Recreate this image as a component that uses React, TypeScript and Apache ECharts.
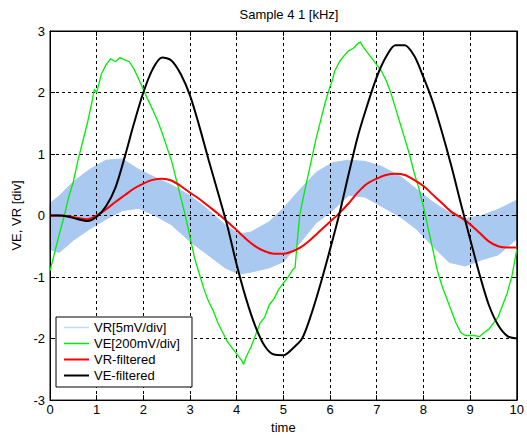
import React, { useEffect, useRef } from "react";
import * as echarts from "echarts";

// VR raw signal (noisy) drawn as its envelope band: x, lower, upper
const bandX = [0.0, 0.2, 0.5, 0.85, 1.2, 1.55, 1.9, 2.25, 2.6, 3.0, 3.35, 3.75, 4.05, 4.3, 4.7, 5.0, 5.35, 5.7, 6.05, 6.4, 6.75, 7.1, 7.5, 7.85, 8.2, 8.55, 8.9, 9.25, 9.6, 10.0];
const bandLow = [-0.55, -0.6, -0.4, -0.22, -0.06, 0.08, 0.12, 0.0, -0.15, -0.42, -0.62, -0.85, -0.95, -0.92, -0.85, -0.75, -0.45, -0.12, 0.08, 0.33, 0.3, 0.15, -0.02, -0.22, -0.5, -0.76, -0.82, -0.72, -0.64, -0.38];
const bandHigh = [0.2, 0.32, 0.55, 0.75, 0.9, 0.92, 0.75, 0.62, 0.5, 0.32, 0.12, -0.15, -0.3, -0.27, -0.1, 0.12, 0.42, 0.7, 0.86, 0.9, 0.88, 0.8, 0.64, 0.43, 0.22, 0.05, -0.05, 0.0, 0.1, 0.25];

// VE raw signal
const veX = [0, 0.1, 0.2, 0.3, 0.4, 0.5, 0.6, 0.7, 0.8, 0.9, 0.95, 1.0, 1.05, 1.1, 1.2, 1.3, 1.4, 1.5, 1.6, 1.7, 1.8, 1.9, 2.0, 2.1, 2.2, 2.3, 2.4, 2.5, 2.6, 2.7, 2.8, 2.9, 3.0, 3.1, 3.2, 3.3, 3.4, 3.5, 3.6, 3.7, 3.8, 3.9, 4.0, 4.1, 4.15, 4.2, 4.3, 4.4, 4.5, 4.6, 4.7, 4.8, 4.9, 5.0, 5.1, 5.2, 5.25, 5.3, 5.35, 5.4, 5.5, 5.6, 5.7, 5.8, 5.9, 6.0, 6.05, 6.1, 6.2, 6.3, 6.4, 6.5, 6.6, 6.65, 6.7, 6.8, 6.9, 7.0, 7.1, 7.2, 7.3, 7.4, 7.5, 7.6, 7.7, 7.8, 7.9, 8.0, 8.1, 8.2, 8.3, 8.4, 8.5, 8.6, 8.7, 8.8, 8.9, 9.0, 9.1, 9.2, 9.3, 9.4, 9.5, 9.6, 9.7, 9.8, 9.9, 10];
const veY = [-0.9, -0.6, -0.3, -0.02, 0.3, 0.55, 0.9, 1.2, 1.5, 1.85, 2.05, 2.0, 2.15, 2.3, 2.45, 2.55, 2.5, 2.57, 2.53, 2.5, 2.38, 2.22, 2.05, 1.88, 1.72, 1.55, 1.35, 1.12, 0.9, 0.6, 0.3, 0.0, -0.35, -0.7, -0.95, -1.2, -1.4, -1.55, -1.75, -1.9, -2.05, -2.15, -2.25, -2.35, -2.42, -2.3, -2.15, -1.95, -1.75, -1.65, -1.45, -1.35, -1.2, -1.1, -1.0, -0.88, -0.85, -0.4, 0.0, 0.2, 0.55, 0.9, 1.25, 1.55, 1.85, 2.1, 2.2, 2.35, 2.5, 2.6, 2.68, 2.72, 2.8, 2.82, 2.75, 2.65, 2.55, 2.45, 2.35, 2.2, 2.0, 1.75, 1.5, 1.25, 1.0, 0.7, 0.45, 0.15, -0.2, -0.55, -0.9, -1.15, -1.35, -1.55, -1.75, -1.9, -1.95, -1.95, -1.95, -1.97, -1.9, -1.85, -1.75, -1.65, -1.45, -1.25, -0.97, -0.55];

// filtered signals
const filtX = [0, 0.2, 0.4, 0.6, 0.8, 1.0, 1.2, 1.4, 1.6, 1.8, 2.0, 2.2, 2.4, 2.6, 2.8, 3.0, 3.2, 3.4, 3.6, 3.8, 4.0, 4.2, 4.4, 4.6, 4.8, 5.0, 5.2, 5.4, 5.6, 5.8, 6.0, 6.2, 6.4, 6.6, 6.8, 7.0, 7.2, 7.4, 7.6, 7.8, 8.0, 8.2, 8.4, 8.6, 8.8, 9.0, 9.2, 9.4, 9.6, 9.8, 10];
const vrFilt = [0, 0, -0.01, -0.04, -0.06, 0, 0.1, 0.22, 0.33, 0.44, 0.52, 0.58, 0.6, 0.57, 0.48, 0.37, 0.27, 0.15, 0.03, -0.1, -0.24, -0.38, -0.5, -0.58, -0.62, -0.62, -0.58, -0.5, -0.38, -0.24, -0.1, 0.04, 0.2, 0.38, 0.52, 0.6, 0.66, 0.68, 0.66, 0.58, 0.48, 0.34, 0.2, 0.06, -0.03, -0.14, -0.28, -0.42, -0.5, -0.52, -0.52];
const veFilt = [0, 0, -0.02, -0.06, -0.09, -0.02, 0.15, 0.45, 0.95, 1.5, 2.0, 2.38, 2.57, 2.52, 2.3, 1.95, 1.45, 0.9, 0.37, -0.17, -0.8, -1.35, -1.8, -2.12, -2.26, -2.27, -2.16, -2.0, -1.6, -1.1, -0.55, 0.03, 0.68, 1.3, 1.8, 2.25, 2.58, 2.77, 2.77, 2.6, 2.25, 1.85, 1.35, 0.8, 0.2, -0.38, -0.95, -1.45, -1.78, -1.96, -2.0];

const yTicks = [-3, -2, -1, 0, 1, 2, 3];
const BAND = "#a9c9f0";
const FONT = "Liberation Sans";
const LINE_ICON = "path://M0,0H25V2H0Z";
const THIN_ICON = "path://M0,0H25V1.5H0Z";

export default function App() {
  const ref = useRef<HTMLDivElement>(null);
  useEffect(() => {
    document.body.style.margin = "0";
    const chart = echarts.init(ref.current!, null, { renderer: "svg" });
    const zip = (xs: number[], ys: number[]) => xs.map((x, i) => [x, ys[i]]);
    const bandData = bandX.map((x, i) => [x, bandLow[i], bandHigh[i]]);
    const tick = { inside: true, length: 5, lineStyle: { color: "#000" } };
    const split = { show: true, lineStyle: { color: "#000", type: [3, 3], width: 1 } };
    const labelStyle = { fontFamily: FONT, fontSize: 13, color: "#000" };
    const line = { onZero: false, lineStyle: { color: "#000" } };
    chart.setOption({
      animation: false,
      backgroundColor: "#fff",
      textStyle: { fontFamily: FONT },
      title: {
        text: "Sample 4 1 [kHz]",
        left: 284,
        top: 3,
        textAlign: "center",
        textStyle: { fontFamily: FONT, fontSize: 13, fontWeight: "normal", color: "#000" },
      },
      grid: { left: 50, right: 9, top: 31, bottom: 37, show: true, borderColor: "#000", borderWidth: 1, backgroundColor: "transparent", z: 3 },
      legend: {
        left: 56,
        top: 317,
        orient: "vertical",
        selectedMode: false,
        itemWidth: 25,
        itemHeight: 14,
        itemGap: 3,
        padding: [4, 12, 5, 8],
        borderColor: "#000",
        borderWidth: 1,
        backgroundColor: "#fff",
        z: 10,
        textStyle: { fontFamily: FONT, fontSize: 13, color: "#000" },
        data: [
          { name: "VR[5mV/div]", icon: THIN_ICON, itemStyle: { color: "#c3daf4" } },
          { name: "VE[200mV/div]", icon: THIN_ICON, itemStyle: { color: "#00ee00" } },
          { name: "VR-filtered", icon: LINE_ICON, itemStyle: { color: "#ff0000" } },
          { name: "VE-filtered", icon: LINE_ICON, itemStyle: { color: "#000000" } },
        ],
      },
      xAxis: [
        {
          type: "value",
          min: 0,
          max: 10,
          interval: 1,
          z: 3,
          name: "time",
          nameLocation: "middle",
          nameGap: 20,
          nameTextStyle: labelStyle,
          axisLabel: { margin: 3, ...labelStyle },
          axisLine: line,
          axisTick: tick,
          splitLine: split,
        },
        {
          type: "value",
          position: "top",
          min: 0,
          max: 10,
          interval: 1,
          z: 3,
          axisLabel: { show: false },
          axisLine: line,
          axisTick: tick,
          splitLine: { show: false },
        },
      ],
      yAxis: [
        {
          type: "value",
          min: yTicks[0],
          max: yTicks[yTicks.length - 1],
          interval: 1,
          z: 3,
          name: "VE, VR [div]",
          nameLocation: "middle",
          nameGap: 25,
          nameTextStyle: labelStyle,
          axisLabel: { margin: 5, ...labelStyle },
          axisLine: line,
          axisTick: tick,
          splitLine: split,
        },
        {
          type: "value",
          position: "right",
          min: yTicks[0],
          max: yTicks[yTicks.length - 1],
          interval: 1,
          z: 3,
          axisLabel: { show: false },
          axisLine: line,
          axisTick: tick,
          splitLine: { show: false },
        },
      ],
      series: [
        {
          name: "VR[5mV/div]",
          type: "custom",
          coordinateSystem: "cartesian2d",
          encode: { x: 0, y: [1, 2] },
          itemStyle: { color: BAND },
          data: bandData,
          z: 1,
          renderItem: (params: any, api: any) => {
            if (params.dataIndex !== 0) return null;
            const upper: number[][] = [];
            const lower: number[][] = [];
            for (let i = 0; i < bandData.length; i++) {
              upper.push(api.coord([bandData[i][0], bandData[i][2]]));
              lower.push(api.coord([bandData[i][0], bandData[i][1]]));
            }
            const pts = upper.concat(lower.reverse());
            return {
              type: "polygon",
              shape: { points: pts },
              style: { fill: BAND, stroke: BAND, lineWidth: 1 },
            };
          },
        },
        {
          name: "VE[200mV/div]",
          type: "line",
          symbol: "none",
          lineStyle: { width: 1.3, color: "#00ee00" },
          itemStyle: { color: "#00ee00" },
          data: zip(veX, veY),
          z: 4,
        },
        {
          name: "VR-filtered",
          type: "line",
          symbol: "none",
          smooth: 0.3,
          lineStyle: { width: 2, color: "#ff0000" },
          itemStyle: { color: "#ff0000" },
          data: zip(filtX, vrFilt),
          z: 5,
        },
        {
          name: "VE-filtered",
          type: "line",
          symbol: "none",
          smooth: 0.3,
          lineStyle: { width: 2, color: "#000000" },
          itemStyle: { color: "#000000" },
          data: zip(filtX, veFilt),
          z: 6,
        },
      ],
    });
    return () => chart.dispose();
  }, []);
  return <div ref={ref} style={{ width: 527, height: 439 }} />;
}
